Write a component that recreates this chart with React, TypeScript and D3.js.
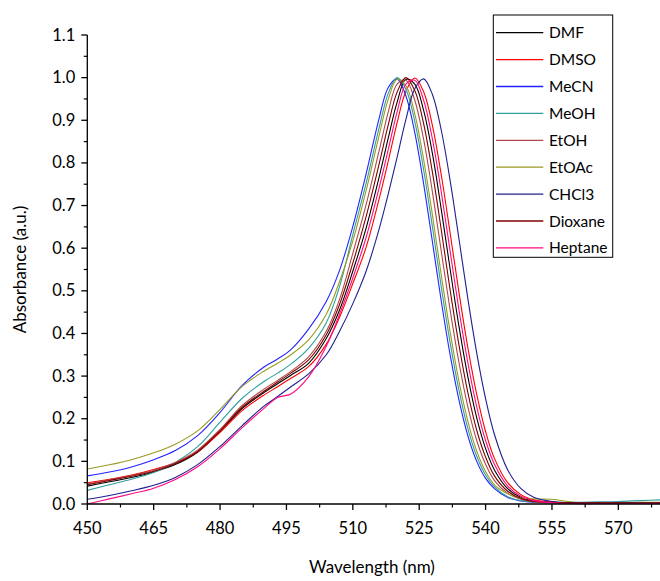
import React from "react";
import * as d3 from "d3";

const wavelengths = [450,455,460,465,470,475,480,485,490,493,496,500,504,507,510,513,516,518,520,522,524,526,528,530,532,534,536,538,540,542,545,548,551,555,560,565,570,575,580];

const DMF = [0.042,0.052,0.062,0.075,0.093,0.122,0.17,0.224,0.262,0.282,0.302,0.33,0.388,0.455,0.546,0.647,0.769,0.858,0.942,0.996,0.985,0.923,0.821,0.69,0.55,0.416,0.298,0.202,0.13,0.08,0.036,0.015,0.007,0.004,0.002,0.002,0.002,0.002,0.002];
const DMSO = [0.05,0.058,0.068,0.081,0.097,0.123,0.168,0.219,0.256,0.275,0.295,0.322,0.375,0.438,0.517,0.602,0.718,0.804,0.894,0.968,0.999,0.967,0.887,0.771,0.635,0.495,0.366,0.257,0.17,0.107,0.05,0.022,0.01,0.004,0.002,0.002,0.002,0.002,0.002];
const MeCN = [0.066,0.075,0.087,0.104,0.126,0.161,0.215,0.278,0.322,0.34,0.362,0.41,0.475,0.548,0.651,0.774,0.907,0.977,0.997,0.957,0.871,0.751,0.614,0.475,0.349,0.243,0.16,0.1,0.06,0.036,0.015,0.007,0.004,0.003,0.002,0.002,0.002,0.003,0.003];
const MeOH = [0.032,0.045,0.058,0.074,0.098,0.135,0.192,0.248,0.288,0.307,0.328,0.365,0.425,0.51,0.632,0.752,0.885,0.963,1.0,0.973,0.897,0.784,0.649,0.508,0.378,0.266,0.177,0.112,0.068,0.04,0.017,0.008,0.005,0.004,0.004,0.005,0.006,0.008,0.01];
const EtOH = [0.047,0.057,0.067,0.079,0.098,0.127,0.175,0.231,0.27,0.29,0.311,0.345,0.405,0.48,0.588,0.702,0.831,0.919,0.985,0.994,0.947,0.855,0.731,0.592,0.454,0.331,0.228,0.149,0.093,0.055,0.025,0.011,0.005,0.003,0.003,0.003,0.003,0.003,0.003];
const EtOAc = [0.082,0.092,0.104,0.12,0.141,0.172,0.222,0.276,0.312,0.33,0.35,0.385,0.445,0.522,0.617,0.735,0.867,0.949,0.996,0.981,0.915,0.808,0.677,0.536,0.403,0.287,0.194,0.124,0.076,0.045,0.024,0.014,0.012,0.011,0.004,0.003,0.003,0.004,0.004];
const CHCl3 = [0.011,0.02,0.031,0.044,0.063,0.093,0.135,0.184,0.23,0.252,0.275,0.305,0.35,0.405,0.47,0.546,0.647,0.727,0.813,0.902,0.974,0.997,0.96,0.876,0.758,0.621,0.481,0.354,0.247,0.163,0.08,0.036,0.015,0.006,0.003,0.002,0.002,0.002,0.002];
const Dioxane = [0.045,0.055,0.065,0.077,0.095,0.124,0.172,0.227,0.265,0.286,0.307,0.338,0.397,0.468,0.565,0.674,0.8,0.889,0.966,1.0,0.97,0.892,0.777,0.642,0.501,0.372,0.261,0.173,0.11,0.066,0.03,0.013,0.006,0.004,0.003,0.003,0.003,0.003,0.003];
const Heptane = [0.0,0.012,0.024,0.037,0.058,0.088,0.13,0.179,0.225,0.25,0.258,0.298,0.37,0.445,0.53,0.625,0.744,0.831,0.919,0.985,0.994,0.947,0.855,0.731,0.592,0.454,0.331,0.228,0.149,0.093,0.042,0.018,0.008,0.003,0.001,0.001,0.001,0.001,0.001];

const seriesNames = ["DMF","DMSO","MeCN","MeOH","EtOH","EtOAc","CHCl3","Dioxane","Heptane"];
const seriesValues = [DMF, DMSO, MeCN, MeOH, EtOH, EtOAc, CHCl3, Dioxane, Heptane];
const seriesColors = ["#000000","#ff0000","#2323ff","#2f9e9e","#b04848","#9a9a22","#20208f","#800000","#ff0a80"];

const xTicks = [450,465,480,495,510,525,540,555,570];
const yTicks = [0,0.1,0.2,0.3,0.4,0.5,0.6,0.7,0.8,0.9,1.0,1.1];

const W = 660, H = 581;
const FONT = "Lato, 'Open Sans', sans-serif";

export default function App() {
  const x = d3.scaleLinear().domain([450, 580]).range([87.3, 662.6]);
  const y = d3.scaleLinear().domain([0, 1.1]).range([504, 35]);
  const line = d3.line<number>()
    .x((_, i) => x(wavelengths[i]))
    .y((v) => y(v))
    .curve(d3.curveCatmullRom.alpha(0.5));

  const xMinor = d3.range(450 + 7.5, 580, 15);
  const yMinor = d3.range(0.05, 1.1, 0.1);

  return (
    <svg width={W} height={H} style={{ position: "absolute", left: 0, top: 0, background: "#fff" }}>
      <defs>
        <clipPath id="plot">
          <rect x={87} y={20} width={W - 87} height={486} />
        </clipPath>
      </defs>
      <g clipPath="url(#plot)">
        {seriesValues.map((vals, k) => (
          <path key={seriesNames[k]} d={line(vals) || ""} fill="none" stroke={seriesColors[k]} strokeWidth={1.1} />
        ))}
      </g>
      {/* x axis */}
      <line x1={x(450)} x2={W} y1={y(0)} y2={y(0)} stroke="#000" strokeWidth={1.3} />
      {xTicks.map((t) => (
        <g key={"xt" + t}>
          <line x1={x(t)} x2={x(t)} y1={y(0)} y2={y(0) + 6} stroke="#000" strokeWidth={1.3} />
          <text x={x(t)} y={y(0) + 30} textAnchor="middle" fontFamily={FONT} fontSize={16.5} fill="#000">{t}</text>
        </g>
      ))}
      {xMinor.map((t) => (
        <line key={"xm" + t} x1={x(t)} x2={x(t)} y1={y(0)} y2={y(0) + 3.5} stroke="#000" strokeWidth={1.2} />
      ))}
      {/* y axis */}
      <line x1={x(450)} x2={x(450)} y1={y(1.1)} y2={y(0)} stroke="#000" strokeWidth={1.3} />
      {yTicks.map((t) => (
        <g key={"yt" + t}>
          <line x1={x(450) - 6} x2={x(450)} y1={y(t)} y2={y(t)} stroke="#000" strokeWidth={1.3} />
          <text x={x(450) - 12} y={y(t) + 5.5} textAnchor="end" fontFamily={FONT} fontSize={16.5} fill="#000">{d3.format(".1f")(t)}</text>
        </g>
      ))}
      {yMinor.map((t) => (
        <line key={"ym" + t} x1={x(450) - 3.5} x2={x(450)} y1={y(t)} y2={y(t)} stroke="#000" strokeWidth={1.2} />
      ))}
      {/* axis titles */}
      <text x={372} y={573} textAnchor="middle" fontFamily={FONT} fontSize={17} fill="#000">Wavelength (nm)</text>
      <text transform={`translate(26,${y(0.55)}) rotate(-90)`} textAnchor="middle" fontFamily={FONT} fontSize={17} fill="#000">Absorbance (a.u.)</text>
      {/* legend */}
      <rect x={493.3} y={15} width={119.4} height={242.3} fill="#fff" stroke="#000" strokeWidth={1} />
      {seriesNames.map((n, k) => {
        const cy = 32.7 + k * 26.9;
        return (
          <g key={"lg" + n}>
            <line x1={496} x2={543.3} y1={cy} y2={cy} stroke={seriesColors[k]} strokeWidth={1.3} />
            <text x={549} y={cy + 5.5} fontFamily={FONT} fontSize={15.5} fill="#000">{n}</text>
          </g>
        );
      })}
    </svg>
  );
}
